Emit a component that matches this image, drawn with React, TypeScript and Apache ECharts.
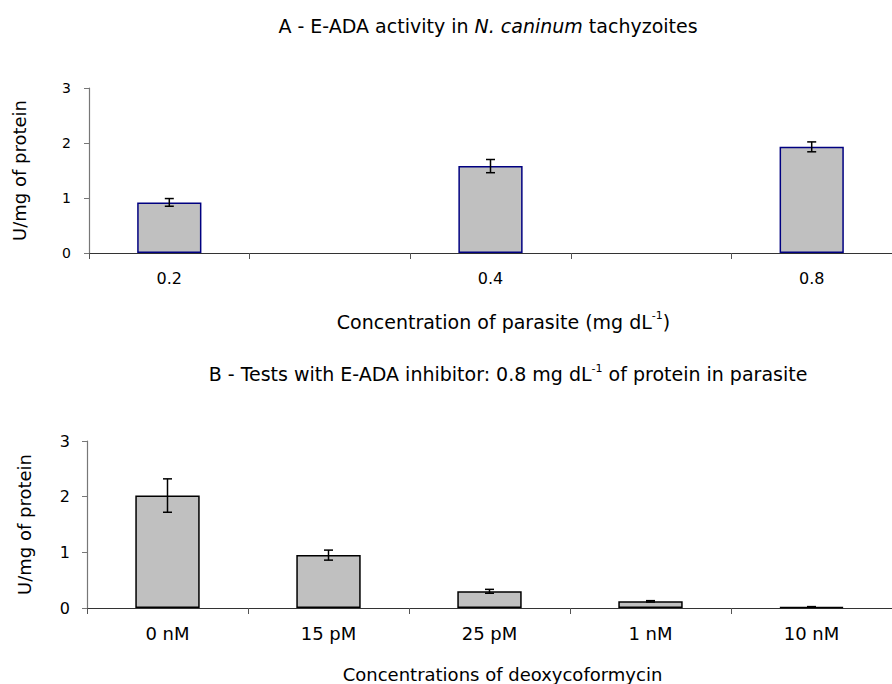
import React, { useEffect, useRef } from "react";
import * as echarts from "echarts";

const categoriesA = ["0.2", "", "0.4", "", "0.8"];
const valuesA = [0.92, null, 1.58, null, 1.93];
const errorsA = [0.07, null, 0.12, null, 0.09];

const categoriesB = ["0 nM", "15 pM", "25 pM", "1 nM", "10 nM"];
const valuesB = [2.02, 0.95, 0.3, 0.12, 0.02];
const errorsB = [0.3, 0.09, 0.035, 0.012, 0.005];

const FONT = "DejaVu Sans, Verdana, sans-serif";

function errData(vals: (number | null)[], errs: (number | null)[]) {
  const out: any[] = [];
  vals.forEach((v, i) => {
    if (v != null && errs[i] != null) out.push([i, v, errs[i]]);
  });
  return out;
}

const errRender = (params: any, api: any) => {
  const i = api.value(0);
  const v = api.value(1);
  const e = api.value(2);
  const top = api.coord([i, v + e]);
  const bot = api.coord([i, v - e]);
  const cap = 4.5;
  const style = { stroke: "#000", lineWidth: 1.5 };
  return {
    type: "group",
    children: [
      { type: "line", shape: { x1: top[0], y1: top[1], x2: bot[0], y2: bot[1] }, style },
      { type: "line", shape: { x1: top[0] - cap, y1: top[1], x2: top[0] + cap, y2: top[1] }, style },
      { type: "line", shape: { x1: bot[0] - cap, y1: bot[1], x2: bot[0] + cap, y2: bot[1] }, style },
    ],
  };
};

const richFor = (fs: number) => ({
  n: { fontSize: fs, fontFamily: FONT, color: "#000", lineHeight: fs + 4 },
  sup: { fontSize: 11, fontFamily: FONT, color: "#000", lineHeight: 11, verticalAlign: "top" },
});

export default function App() {
  const ref = useRef<HTMLDivElement>(null);
  useEffect(() => {
    const chart = echarts.init(ref.current!, undefined, { renderer: "svg" });
    const yAxisCommon = (fs: number, margin: number, gap: number) => ({
      type: "value",
      min: 0,
      max: 3,
      interval: 1,
      splitLine: { show: false },
      axisLine: { show: true, lineStyle: { color: "#777", width: 1.2 } },
      axisTick: { show: true, length: 5, lineStyle: { color: "#777" } },
      axisLabel: { color: "#000", fontSize: fs, fontFamily: FONT, margin },
      name: "U/mg of protein",
      nameLocation: "middle",
      nameGap: gap,
      nameTextStyle: { color: "#000", fontSize: 18, fontFamily: FONT },
    });
    const xAxisCommon = (fs: number, margin: number) => ({
      type: "category",
      axisLine: { show: true, lineStyle: { color: "#333", width: 1.2 } },
      axisTick: { show: true, length: 6, lineStyle: { color: "#555" } },
      axisLabel: { color: "#000", fontSize: fs, fontFamily: FONT, margin, interval: 0 },
      nameLocation: "middle",
    });
    chart.setOption({
      animation: false,
      grid: [
        { left: 89, top: 88, width: 810, height: 165 },
        { left: 87, top: 441, width: 817, height: 169 },
      ],
      graphic: [
        {
          type: "text",
          x: 488,
          y: 26,
          style: {
            text: "{n|A - E-ADA activity in }{i|N. caninum}{n| tachyzoites}",
            align: "center",
            verticalAlign: "middle",
            rich: {
              n: { fontSize: 19, fontFamily: FONT, fill: "#000" },
              i: { fontSize: 19, fontFamily: FONT, fontStyle: "italic", fill: "#000" },
            },
          },
        },
        {
          type: "text",
          x: 508,
          y: 374,
          style: {
            text: "{n|B - Tests with E-ADA inhibitor: 0.8 mg dL}{sup|-1}{n| of protein in parasite}",
            align: "center",
            verticalAlign: "middle",
            rich: {
              n: { fontSize: 19, fontFamily: FONT, fill: "#000", lineHeight: 23 },
              sup: { fontSize: 11, fontFamily: FONT, fill: "#000", lineHeight: 11, verticalAlign: "top" },
            },
          },
        },
      ],
      xAxis: [
        {
          ...xAxisCommon(16, 17),
          gridIndex: 0,
          data: categoriesA,
          name: "{n|Concentration of parasite (mg dL}{sup|-1}{n|)}",
          nameGap: 57,
          nameTextStyle: { rich: richFor(19), padding: [0, 0, 0, 26] },
        },
        {
          ...xAxisCommon(18, 16),
          gridIndex: 1,
          data: categoriesB,
          name: "{n|Concentrations of deoxycoformycin}",
          nameGap: 55,
          nameTextStyle: { rich: richFor(18), padding: [0, 0, 0, 26] },
        },
      ],
      yAxis: [
        { ...yAxisCommon(14, 18, 61), gridIndex: 0 },
        { ...yAxisCommon(16, 17, 54), gridIndex: 1 },
      ],
      series: [
        {
          type: "bar",
          xAxisIndex: 0,
          yAxisIndex: 0,
          data: valuesA,
          barWidth: "40%",
          itemStyle: { color: "#C0C0C0", borderColor: "#000080", borderWidth: 1.5 },
        },
        {
          type: "custom",
          xAxisIndex: 0,
          yAxisIndex: 0,
          data: errData(valuesA, errorsA),
          encode: { x: 0, y: 1 },
          renderItem: errRender,
          z: 10,
        },
        {
          type: "bar",
          xAxisIndex: 1,
          yAxisIndex: 1,
          data: valuesB,
          barWidth: "40%",
          itemStyle: { color: "#C0C0C0", borderColor: "#000", borderWidth: 1.5 },
        },
        {
          type: "custom",
          xAxisIndex: 1,
          yAxisIndex: 1,
          data: errData(valuesB, errorsB),
          encode: { x: 0, y: 1 },
          renderItem: errRender,
          z: 10,
        },
      ],
    });
    return () => chart.dispose();
  }, []);
  return (
    <div
      ref={ref}
      style={{ position: "absolute", left: 0, top: 0, width: 892, height: 684, background: "#fff" }}
    />
  );
}
